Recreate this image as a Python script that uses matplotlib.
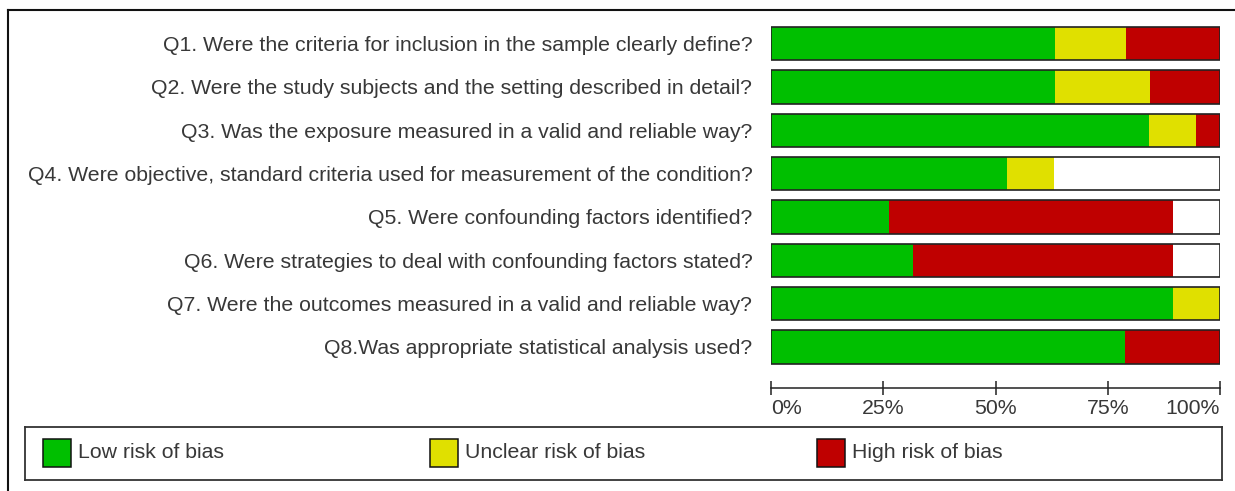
import matplotlib
matplotlib.use("Agg")
import matplotlib.pyplot as plt
from matplotlib.patches import Rectangle
from matplotlib.lines import Line2D

# questions (top to bottom) and % of studies per judgement
questions = [
    "Q1. Were the criteria for inclusion in the sample clearly define?",
    "Q2. Were the study subjects and the setting described in detail?",
    "Q3. Was the exposure measured in a valid and reliable way?",
    "Q4. Were objective, standard criteria used for measurement of the condition?",
    "Q5. Were confounding factors identified?",
    "Q6. Were strategies to deal with confounding factors stated?",
    "Q7. Were the outcomes measured in a valid and reliable way?",
    "Q8.Was appropriate statistical analysis used?",
]
low = [63.2, 63.2, 84.2, 52.6, 26.3, 31.6, 89.5, 78.9]
unclear = [15.8, 21.1, 10.5, 10.5, 0.0, 0.0, 10.5, 0.0]
high = [21.1, 15.8, 5.3, 0.0, 63.2, 57.9, 0.0, 21.1]

categories = ["Low risk of bias", "Unclear risk of bias", "High risk of bias"]
colors = ["#00bf00", "#e0e000", "#bf0000"]
xticks = [0, 25, 50, 75, 100]
xticklabels = ["0%", "25%", "50%", "75%", "100%"]

W, H = 1235, 491
TXT = "#383838"
FS = 15.3
plt.rcParams["font.family"] = ["Liberation Sans", "DejaVu Sans"]

fig = plt.figure(figsize=(W / 100, H / 100), dpi=100)

# main bar axes (pixel positions from the reference)
ax = fig.add_axes([771 / W, 1 - 368.5 / H, 449 / W, 346.5 / H])
ypos = list(range(len(questions)))
bh = 0.77

# white background box for each row, then stacked segments, then outline
ax.barh(ypos, [100] * len(ypos), height=bh, color="white", edgecolor="none")
left = [0.0] * len(ypos)
for vals, c in zip([low, unclear, high], colors):
    ax.barh(ypos, vals, left=left, height=bh, color=c, edgecolor="none")
    left = [a + b for a, b in zip(left, vals)]
ax.barh(ypos, [100] * len(ypos), height=bh, color="none",
        edgecolor="#222222", linewidth=1.2)

ax.set_xlim(0, 100)
ax.set_ylim(len(questions) - 0.5, -0.5)
ax.set_yticks(ypos, labels=questions, fontsize=FS, color=TXT)
ax.tick_params(axis="y", length=0, pad=13.5)

for s in ["top", "right", "left"]:
    ax.spines[s].set_visible(False)
ax.spines["bottom"].set_position(("outward", 14))
ax.spines["bottom"].set_color("#222222")
ax.spines["bottom"].set_linewidth(1.1)
ax.set_xticks(xticks, labels=xticklabels, fontsize=FS, color=TXT)
ax.tick_params(axis="x", direction="inout", length=9.5, width=1.1,
               color="#222222", pad=3)
tl = ax.get_xticklabels()
tl[0].set_ha("left")
tl[-1].set_ha("right")

# legend box
lax = fig.add_axes([25 / W, 1 - 480 / H, (1222 - 25) / W, 53 / H])
lax.set_xlim(25, 1222)
lax.set_ylim(480, 427)
lax.set_xticks([])
lax.set_yticks([])
for s in lax.spines.values():
    s.set_color("#333333")
    s.set_linewidth(1.3)
for x0, lab, c in zip([43, 430, 817], categories, colors):
    lax.add_patch(Rectangle((x0, 439), 28, 28, facecolor=c,
                            edgecolor="#111111", linewidth=1.1))
    lax.text(x0 + 35, 453, lab, fontsize=FS, color=TXT,
             ha="left", va="center")

# outer frame (only top and left edges visible in the crop)
fig.add_artist(Line2D([8 / W, 8 / W], [0, 1 - 10 / H], color="#111111",
                      linewidth=1.5, transform=fig.transFigure))
fig.add_artist(Line2D([8 / W, 1], [1 - 10 / H, 1 - 10 / H], color="#111111",
                      linewidth=1.5, transform=fig.transFigure))

fig.savefig("out.png", dpi=100)
